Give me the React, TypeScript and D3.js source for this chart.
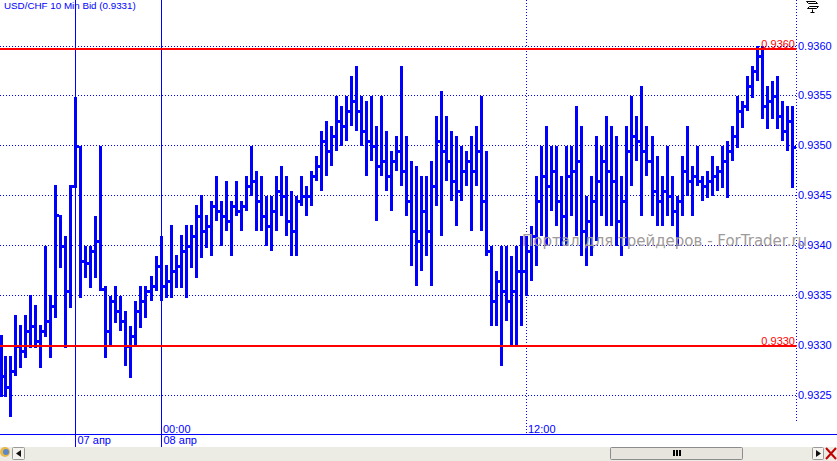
import React from 'react';
import * as d3 from 'd3';

const W = 837;
const H = 461;

// USD/CHF 10 Min bars
const highs = [
  0.93311,0.93290,0.93290,0.93331,0.93321,0.93331,0.93351,0.93341,0.93321,0.93400,
  0.93351,0.93461,0.93431,0.93410,0.93461,0.93549,0.93500,0.93400,0.93400,0.93430,
  0.93500,0.93360,0.93350,0.93360,0.93350,0.93335,0.93320,0.93345,0.93360,0.93360,
  0.93370,0.93390,0.93410,0.93381,0.93421,0.93391,0.93411,0.93421,0.93421,0.93441,
  0.93451,0.93431,0.93445,0.93470,0.93445,0.93465,0.93445,0.93465,0.93445,0.93470,
  0.93500,0.93475,0.93470,0.93450,0.93450,0.93470,0.93480,0.93470,0.93455,0.93450,
  0.93470,0.93460,0.93475,0.93490,0.93515,0.93525,0.93520,0.93550,0.93540,0.93550,
  0.93570,0.93580,0.93550,0.93545,0.93550,0.93520,0.93550,0.93515,0.93495,0.93510,
  0.93580,0.93510,0.93485,0.93480,0.93470,0.93470,0.93485,0.93530,0.93555,0.93530,
  0.93515,0.93510,0.93500,0.93495,0.93510,0.93520,0.93550,0.93495,0.93400,0.93375,
  0.93400,0.93400,0.93390,0.93400,0.93410,0.93410,0.93420,0.93470,0.93500,0.93520,
  0.93500,0.93500,0.93470,0.93500,0.93500,0.93540,0.93520,0.93450,0.93470,0.93510,
  0.93500,0.93530,0.93520,0.93510,0.93470,0.93520,0.93550,0.93530,0.93560,0.93520,
  0.93510,0.93490,0.93470,0.93500,0.93470,0.93450,0.93490,0.93520,0.93480,0.93500,
  0.93470,0.93475,0.93490,0.93480,0.93500,0.93505,0.93520,0.93550,0.93545,0.93570,
  0.93580,0.93600,0.93600,0.93560,0.93565,0.93570,0.93545,0.93540,0.93540,
];
const lows = [
  0.93248,0.93248,0.93228,0.93270,0.93278,0.93288,0.93298,0.93298,0.93278,0.93309,
  0.93288,0.93328,0.93378,0.93298,0.93338,0.93458,0.93348,0.93368,0.93358,0.93368,
  0.93355,0.93288,0.93300,0.93323,0.93315,0.93280,0.93268,0.93300,0.93318,0.93328,
  0.93345,0.93355,0.93345,0.93348,0.93348,0.93358,0.93358,0.93348,0.93378,0.93368,
  0.93388,0.93398,0.93390,0.93425,0.93400,0.93415,0.93390,0.93430,0.93415,0.93435,
  0.93450,0.93415,0.93415,0.93400,0.93395,0.93415,0.93430,0.93410,0.93390,0.93390,
  0.93440,0.93430,0.93440,0.93465,0.93455,0.93470,0.93480,0.93495,0.93500,0.93505,
  0.93520,0.93515,0.93500,0.93470,0.93485,0.93425,0.93470,0.93455,0.93435,0.93475,
  0.93460,0.93430,0.93380,0.93360,0.93375,0.93390,0.93360,0.93440,0.93410,0.93465,
  0.93445,0.93420,0.93445,0.93460,0.93415,0.93460,0.93415,0.93390,0.93320,0.93320,
  0.93280,0.93325,0.93300,0.93300,0.93320,0.93350,0.93365,0.93380,0.93410,0.93400,
  0.93435,0.93420,0.93400,0.93400,0.93430,0.93410,0.93390,0.93380,0.93390,0.93405,
  0.93430,0.93420,0.93420,0.93400,0.93390,0.93400,0.93460,0.93485,0.93430,0.93470,
  0.93430,0.93420,0.93420,0.93430,0.93420,0.93400,0.93430,0.93450,0.93430,0.93460,
  0.93445,0.93448,0.93450,0.93455,0.93458,0.93448,0.93485,0.93498,0.93518,0.93535,
  0.93548,0.93565,0.93527,0.93517,0.93527,0.93517,0.93505,0.93495,0.93458,
];
const closes = [
  0.93270,0.93259,0.93275,0.93300,0.93295,0.93315,0.93320,0.93305,0.93315,0.93325,
  0.93340,0.93431,0.93400,0.93355,0.93460,0.93500,0.93385,0.93383,0.93395,0.93405,
  0.93357,0.93315,0.93345,0.93335,0.93325,0.93300,0.93310,0.93335,0.93345,0.93355,
  0.93360,0.93380,0.93360,0.93365,0.93375,0.93380,0.93395,0.93400,0.93410,0.93430,
  0.93415,0.93420,0.93440,0.93435,0.93430,0.93425,0.93440,0.93435,0.93440,0.93460,
  0.93465,0.93445,0.93430,0.93420,0.93435,0.93455,0.93450,0.93425,0.93415,0.93445,
  0.93450,0.93450,0.93470,0.93480,0.93505,0.93495,0.93510,0.93525,0.93520,0.93535,
  0.93545,0.93535,0.93515,0.93505,0.93500,0.93480,0.93485,0.93470,0.93485,0.93495,
  0.93475,0.93445,0.93415,0.93405,0.93435,0.93415,0.93460,0.93505,0.93495,0.93485,
  0.93465,0.93455,0.93475,0.93485,0.93475,0.93495,0.93445,0.93395,0.93345,0.93365,
  0.93355,0.93345,0.93355,0.93375,0.93375,0.93395,0.93410,0.93445,0.93470,0.93460,
  0.93475,0.93445,0.93430,0.93470,0.93475,0.93485,0.93415,0.93425,0.93445,0.93465,
  0.93485,0.93475,0.93465,0.93425,0.93445,0.93495,0.93510,0.93505,0.93495,0.93485,
  0.93455,0.93445,0.93455,0.93450,0.93435,0.93445,0.93475,0.93465,0.93470,0.93465,
  0.93460,0.93465,0.93470,0.93475,0.93485,0.93495,0.93510,0.93535,0.93540,0.93560,
  0.93575,0.93590,0.93540,0.93545,0.93550,0.93530,0.93515,0.93525,0.93499,
];
const opens = [
  0.93262,0.93270,0.93259,0.93275,0.93300,0.93295,0.93315,0.93320,0.93305,0.93315,
  0.93325,0.93340,0.93431,0.93400,0.93355,0.93460,0.93500,0.93385,0.93383,0.93395,
  0.93405,0.93357,0.93315,0.93345,0.93335,0.93325,0.93300,0.93310,0.93335,0.93345,
  0.93355,0.93360,0.93380,0.93360,0.93365,0.93375,0.93380,0.93395,0.93400,0.93410,
  0.93430,0.93415,0.93420,0.93440,0.93435,0.93430,0.93425,0.93440,0.93435,0.93440,
  0.93460,0.93465,0.93445,0.93430,0.93420,0.93435,0.93455,0.93450,0.93425,0.93415,
  0.93445,0.93450,0.93450,0.93470,0.93480,0.93505,0.93495,0.93510,0.93525,0.93520,
  0.93535,0.93545,0.93535,0.93515,0.93505,0.93500,0.93480,0.93485,0.93470,0.93485,
  0.93495,0.93475,0.93445,0.93415,0.93405,0.93435,0.93415,0.93460,0.93505,0.93495,
  0.93485,0.93465,0.93455,0.93475,0.93485,0.93475,0.93495,0.93445,0.93395,0.93345,
  0.93365,0.93355,0.93345,0.93355,0.93375,0.93375,0.93395,0.93410,0.93445,0.93470,
  0.93460,0.93475,0.93445,0.93430,0.93470,0.93475,0.93485,0.93415,0.93425,0.93445,
  0.93465,0.93485,0.93475,0.93465,0.93425,0.93445,0.93495,0.93510,0.93505,0.93495,
  0.93485,0.93455,0.93445,0.93455,0.93450,0.93435,0.93445,0.93475,0.93465,0.93470,
  0.93465,0.93460,0.93465,0.93470,0.93475,0.93485,0.93495,0.93510,0.93535,0.93540,
  0.93560,0.93575,0.93590,0.93540,0.93545,0.93550,0.93530,0.93515,0.93525,
];

const priceTicks = [0.9325, 0.933, 0.9335, 0.934, 0.9345, 0.935, 0.9355, 0.936];
const redLevels = [0.93597, 0.933];
const daySeparators = [
  { i: 15, label: '07 апр' },
  { i: 32, label: '08 апр' },
];
const timeMarks = [
  { i: 32, label: '00:00', solid: true },
  { i: 105, label: '12:00', solid: false },
];
const title = 'USD/CHF 10 Min Bid (0.9331)';
const watermark = 'Портал для трейдеров - ForTrader.ru';

const BLUE = '#0000ff';
const FONT = 'Liberation Sans, Arial, sans-serif';

export default function App() {
  const n = highs.length;
  const x = d3.scaleLinear().domain([0, n - 1]).range([0.2, 0.2 + 5.01 * (n - 1)]);
  const y = d3.scaleLinear().domain([0.9325, 0.936]).range([395.5, 46]);
  const plotRight = 796.5;
  const axisY = 434.5;
  const fmt = d3.format('.4f');
  const gx = (i: number) => Math.round(x(i)) + 0.5;

  return (
    <svg width={W} height={H} style={{ position: 'absolute', left: 0, top: 0, background: '#fff' }} fontFamily={FONT}>
      <rect x={0} y={0} width={W} height={H} fill="#fff" />
      <g shapeRendering="crispEdges">
        {priceTicks.map((p) => (
          <line key={p} x1={0} x2={plotRight} y1={Math.floor(y(p)) + 0.5} y2={Math.floor(y(p)) + 0.5}
            stroke={BLUE} strokeWidth={1} strokeDasharray="1 2" />
        ))}
        <line x1={plotRight} x2={plotRight} y1={0} y2={421} stroke={BLUE} strokeDasharray="1 2" />
        {timeMarks.filter((t) => !t.solid).map((t) => (
          <line key={t.label} x1={gx(t.i)} x2={gx(t.i)} y1={0} y2={axisY} stroke={BLUE} strokeDasharray="1 2" />
        ))}
        {daySeparators.map((d) => (
          <line key={d.label} x1={gx(d.i)} x2={gx(d.i)} y1={0} y2={447} stroke={BLUE} strokeWidth={1} />
        ))}
      </g>
      <g fill={BLUE} shapeRendering="crispEdges">
        {highs.map((h, i) => {
          const cx = Math.max(1, Math.round(x(i)));
          const y1 = Math.round(y(h));
          const y2 = Math.round(y(lows[i]));
          const yo = Math.round(y(opens[i]));
          const yc = Math.round(y(closes[i]));
          return (
            <g key={i}>
              <rect x={cx - 1} y={y1} width={3} height={Math.max(3, y2 - y1)} />
              <rect x={cx - 3} y={yo - 1} width={2} height={3} />
              <rect x={cx + 2} y={yc - 1} width={2} height={3} />
            </g>
          );
        })}
      </g>
      {redLevels.map((p) => {
        const yy = Math.round(y(p));
        return (
          <g key={p}>
            <rect x={0} y={yy - 1} width={plotRight} height={2} fill="#ff0000" />
            <text x={795} y={yy - 1} textAnchor="end" fontSize={11} fill="#ff0000">{fmt(p)}</text>
          </g>
        );
      })}
      {priceTicks.map((p) => (
        <text key={p} x={798} y={Math.floor(y(p)) + 4} fontSize={11} fill={BLUE}>{fmt(p)}</text>
      ))}
      <text x={522} y={246} fontSize={15} fill="#a09b9b" fontFamily="DejaVu Sans, sans-serif">{watermark}</text>
      <text x={4} y={9} fontSize={9.8} fill={BLUE}>{title}</text>
      <line x1={0} x2={W} y1={axisY} y2={axisY} stroke={BLUE} shapeRendering="crispEdges" />
      {timeMarks.map((t) => (
        <text key={t.label} x={gx(t.i) + 1.5} y={433} fontSize={11} fill={BLUE}>{t.label}</text>
      ))}
      {daySeparators.map((d) => (
        <text key={d.label} x={gx(d.i) + 2} y={444} fontSize={11} fill={BLUE}>{d.label}</text>
      ))}
      <rect x={0} y={447} width={W} height={14} fill="#ecebe4" />
      <circle cx={5} cy={452} r={5} fill="#e8b84a" />
      <circle cx={6} cy={452} r={3} fill="#5a88c8" />
      <rect x={12.5} y={447.5} width={12} height={12} fill="#f4f3ee" stroke="#9a9a9a" rx={1} />
      <path d="M21,450 L16,453.5 L21,457 Z" fill="#111" />
      <rect x={610.5} y={447.5} width={132} height={12} fill="#e6e4dc" stroke="#8c8c8c" rx={1} />
      <rect x={673} y={450} width={2} height={6} fill="#000" />
      <rect x={676} y={450} width={2} height={6} fill="#000" />
      <rect x={679} y={450} width={2} height={6} fill="#000" />
      <rect x={812.5} y={447.5} width={11} height={12} fill="#f4f3ee" stroke="#9a9a9a" rx={1} />
      <path d="M816,450 L821,453.5 L816,457 Z" fill="#111" />
      <path d="M826,448 L836,459 M836,448 L826,459" stroke="#c00000" strokeWidth={2} />
      <g stroke="#000" fill="none" strokeWidth={1}>
        <path d="M806.5,1.5 h9 l2,2 h-9 z" />
        <path d="M809.5,6.5 h9 l-2,2 h-9 z" />
        <path d="M812.5,9.5 v3 M810.5,12.5 h4" />
      </g>
    </svg>
  );
}
